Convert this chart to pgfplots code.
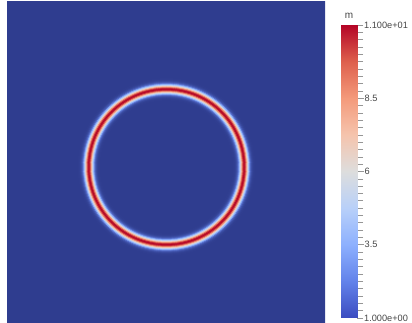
\documentclass[border=0pt]{standalone}
\usepackage{fontspec}
\setmainfont{Liberation Sans}
\usepackage{pgfplots}
\pgfplotsset{compat=1.18}
\usepackage{pgfplotstable}

\pgfplotstableread{
x y r m
159.5 156 240 1.0
159.5 156 89 1.02
159.5 156 88 1.05
159.5 156 87 1.12
159.5 156 86 1.3
159.5 156 85 1.65
159.5 156 84 2.3
159.5 156 83 3.4
159.5 156 82 5.0
159.5 156 81 7.0
159.5 156 80 9.0
159.5 156 79 10.5
159.5 156 78 11.0
159.5 156 77 10.5
159.5 156 76 9.0
159.5 156 75 7.0
159.5 156 74 5.0
159.5 156 73 3.4
159.5 156 72 2.3
159.5 156 71 1.65
159.5 156 70 1.3
159.5 156 69 1.12
159.5 156 68 1.05
159.5 156 67 1.02
159.5 156 66 1.0
}\ringtable

\pgfplotsset{
  colormap={plotmap}{
    rgb255(0)=(47,61,143)
    rgb255(1)=(85,110,205)
    rgb255(2)=(141,176,254)
    rgb255(3)=(184,208,249)
    rgb255(4)=(221,221,221)
    rgb255(5)=(245,196,173)
    rgb255(6)=(244,154,123)
    rgb255(7)=(222,96,77)
    rgb255(8)=(180,4,38)
  },
  colormap={barmap}{
    rgb255(0)=(59,76,192)
    rgb255(1)=(98,130,234)
    rgb255(2)=(141,176,254)
    rgb255(3)=(184,208,249)
    rgb255(4)=(221,221,221)
    rgb255(5)=(245,196,173)
    rgb255(6)=(244,154,123)
    rgb255(7)=(222,96,77)
    rgb255(8)=(180,4,38)
  },
}
\definecolor{ticklabgray}{RGB}{70,70,70}
\definecolor{tickgray}{RGB}{150,150,150}

\begin{document}
\begin{tikzpicture}
\path[use as bounding box] (0,0) rectangle (412pt,323pt);
\begin{axis}[
  at={(7pt,0pt)}, anchor=south west,
  width=318pt, height=321pt, scale only axis,
  xmin=0, xmax=318, ymin=0, ymax=321,
  hide axis,
  clip marker paths=true,
  colormap name=plotmap,
  point meta min=1, point meta max=11,
]
\addplot[
  scatter, only marks, mark=*,
  point meta=explicit,
  scatter/use mapped color={draw=mapped color, fill=mapped color},
  mark options={line width=0.3pt},
  visualization depends on={\thisrow{r} \as \discr},
  scatter/@pre marker code/.append style={/tikz/mark size=\discr pt},
] table[x=x, y=y, meta=m] {\ringtable};
\end{axis}

\begin{axis}[
  at={(341pt,5pt)}, anchor=south west,
  width=16pt, height=293pt, scale only axis,
  xmin=0, xmax=1, ymin=1, ymax=11,
  view={0}{90},
  colormap name=barmap,
  point meta min=1, point meta max=11,
  hide x axis,
  axis y line*=right,
  y axis line style={draw=none},
  ytick={1,11},
  yticklabels={1.000e+00,1.100e+01},
  extra y ticks={3.5,6,8.5},
  extra y tick labels={3.5,6,8.5},
  extra y tick style={tick align=center, major tick length=13pt},
  minor ytick={1.25,1.5,1.75,2,2.25,2.5,2.75,3,3.25,3.75,4,4.25,4.5,4.75,5,5.25,5.5,5.75,6.25,6.5,6.75,7,7.25,7.5,7.75,8,8.25,8.75,9,9.25,9.5,9.75,10,10.25,10.5,10.75},
  tick align=outside,
  major tick length=6pt, minor tick length=6pt,
  tick style={draw=tickgray, line width=0.6pt},
  yticklabel style={font=\fontsize{9.2}{11}\selectfont, text=ticklabgray, inner sep=1pt, xshift=0pt},
  title={m},
  title style={at={(0.5,1)}, anchor=south, yshift=-2pt, inner sep=2pt, font=\fontsize{10}{12}\selectfont, text=ticklabgray},
  /pgf/number format/assume math mode=true,
]
\addplot[surf, shader=interp, point meta=y] coordinates {
(0,1) (1,1)

(0,11) (1,11)
};
\end{axis}
\end{tikzpicture}
\end{document}
